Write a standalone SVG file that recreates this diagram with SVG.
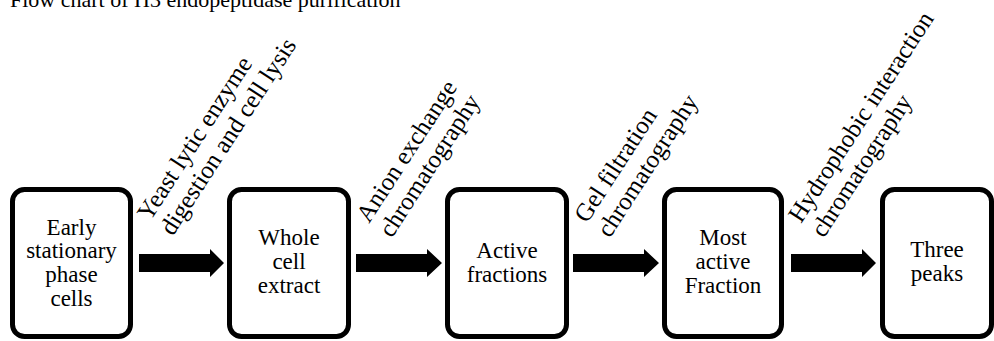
<svg xmlns="http://www.w3.org/2000/svg" width="994" height="341" viewBox="0 0 994 341">
<style>
text{font-family:"Liberation Serif","Times New Roman",serif;fill:#000}
.box rect{fill:#fff;stroke:#000;stroke-width:5}
.box text{font-size:23px;text-anchor:middle}
.lbl text{font-size:25px}
.arrow{fill:#000}
</style>
<rect width="994" height="341" fill="#fff"/>
<text id="title" x="10" y="7" style="font-size:22px">Flow chart of H3 endopeptidase purification</text>
<g id="n1" class="box"><rect x="12.5" y="189.5" width="118" height="147" rx="12"/>
<text x="71.5" y="235">Early</text><text x="71.5" y="258">stationary</text><text x="71.5" y="282">phase</text><text x="71.5" y="306">cells</text></g>
<g id="n2" class="box"><rect x="229.5" y="189.5" width="119" height="147" rx="12"/>
<text x="289" y="245">Whole</text><text x="289" y="269">cell</text><text x="289" y="293">extract</text></g>
<g id="n3" class="box"><rect x="447.5" y="189.5" width="119" height="147" rx="12"/>
<text x="507" y="258">Active</text><text x="507" y="282">fractions</text></g>
<g id="n4" class="box"><rect x="664.5" y="189.5" width="117" height="147" rx="12"/>
<text x="723" y="245">Most</text><text x="723" y="269">active</text><text x="723" y="293">Fraction</text></g>
<g id="n5" class="box"><rect x="882.5" y="189.5" width="109" height="147" rx="12"/>
<text x="937" y="257">Three</text><text x="937" y="281">peaks</text></g>
<g id="connectors">
<polygon class="arrow" points="139,254 210,254 210,249 224,263 210,277 210,272 139,272"/>
<polygon class="arrow" points="356,254 427,254 427,249 442,263 427,277 427,272 356,272"/>
<polygon class="arrow" points="573,254 644,254 644,249 659,263 644,277 644,272 573,272"/>
<polygon class="arrow" points="791,254 862,254 862,249 876,263 862,277 862,272 791,272"/>
<g class="lbl" transform="translate(150,222) rotate(-57)"><text x="0" y="0">Yeast lytic enzyme</text><text x="0" y="27">digestion and cell lysis</text></g>
<g class="lbl" transform="translate(369,224) rotate(-57)"><text x="0" y="0">Anion exchange</text><text x="0" y="27">chromatography</text></g>
<g class="lbl" transform="translate(587,224) rotate(-57)"><text x="0" y="0">Gel filtration</text><text x="0" y="27">chromatography</text></g>
<g class="lbl" transform="translate(801,224) rotate(-57)"><text x="0" y="0">Hydrophobic interaction</text><text x="0" y="27">chromatography</text></g>
</g>
</svg>
